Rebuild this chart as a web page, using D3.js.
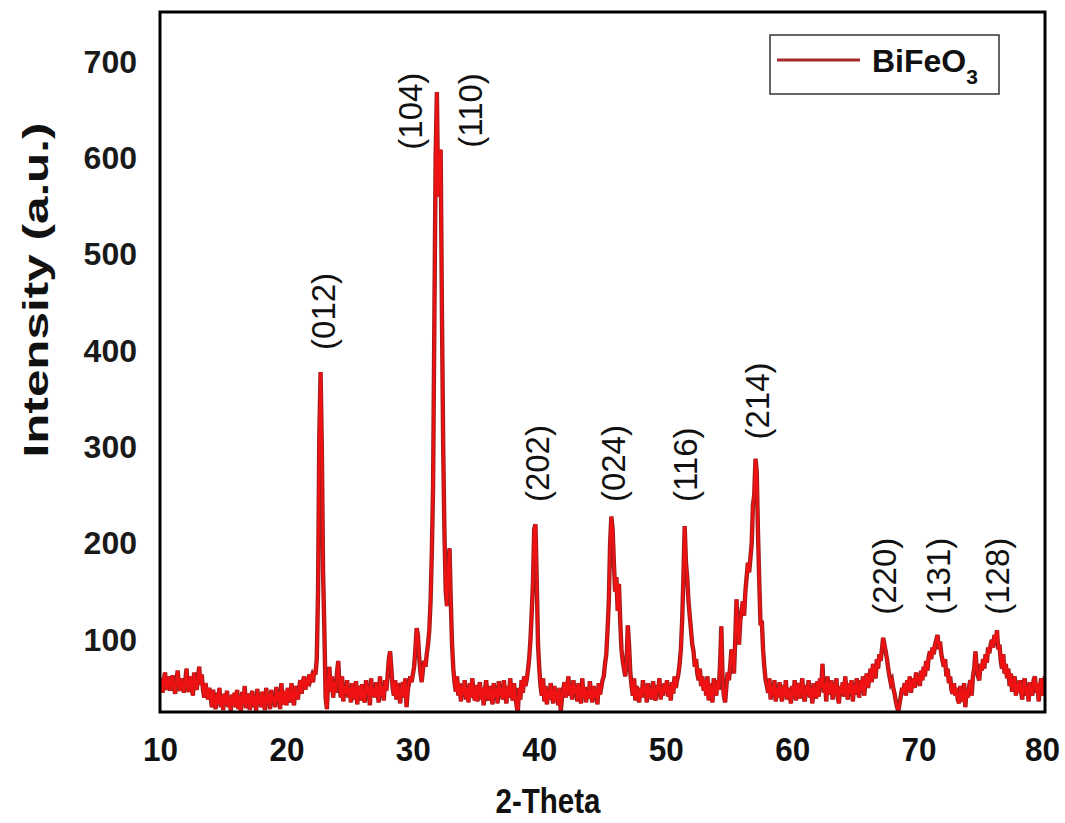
<!DOCTYPE html>
<html>
<head>
<meta charset="utf-8">
<script src="https://cdn.jsdelivr.net/npm/d3@7"></script>
<style>
  html, body { margin: 0; padding: 0; background: #fff; }
  svg { display: block; }
</style>
</head>
<body>
<svg id="chart" width="1065" height="823"></svg>
<script>
// ---------- data ----------
const startAngle = 10;     // first 2-theta value (deg)
const stepAngle = 0.1;     // 2-theta step (deg)
// intensity rows, one row per degree (x.0 ... x.9)
const intensityRows = [
  [52,60,45,58,66,48,55,62,47,57],        // 10
  [63,50,44,58,68,52,47,60,55,45],        // 11
  [58,70,50,46,62,55,42,66,52,48],        // 12
  [60,72,53,64,48,40,55,46,38,50],        // 13
  [43,30,48,36,28,45,34,50,30,42],        // 14
  [27,44,33,47,30,40,26,43,32,45],        // 15
  [30,48,28,41,26,46,33,52,29,40],        // 16
  [44,27,39,47,30,42,26,49,33,43],        // 17
  [30,46,36,27,50,34,44,28,48,35],        // 18
  [42,30,51,36,46,28,55,37,33,47],        // 19
  [32,50,40,35,55,41,32,52,43,38],        // 20
  [50,58,44,56,62,48,60,52,64,58],        // 21
  [62,56,68,64,80,150,310,378,300,170],   // 22
  [110,40,28,58,72,46,62,40,56,45],       // 23
  [66,78,52,40,62,36,52,44,58,40],        // 24
  [50,35,55,43,38,57,33,48,52,37],        // 25
  [54,40,35,58,43,52,32,60,42,50],        // 26
  [40,56,45,35,62,42,52,37,58,47],        // 27
  [62,80,88,70,50,42,58,38,55,45],        // 28
  [34,50,56,40,60,30,48,55,62,56],        // 29
  [64,72,90,112,105,82,66,56,70,78],      // 30
  [72,85,95,110,140,190,260,430,600,669], // 31
  [560,600,609,440,300,210,150,135,175,195], // 32
  [140,95,70,55,46,62,42,55,36,52],       // 33
  [43,58,38,50,35,55,40,60,45,37],        // 34
  [53,36,47,56,38,50,32,48,58,40],        // 35
  [37,52,44,33,55,40,49,34,57,42],        // 36
  [50,38,58,43,34,52,40,60,45,37],        // 37
  [55,42,32,24,50,38,58,45,62,52],        // 38
  [58,68,80,100,128,160,215,220,160,95],  // 39
  [70,52,42,60,36,52,33,48,38,55],        // 40
  [43,34,52,37,47,32,50,26,40,49],        // 41
  [56,40,50,62,42,53,38,58,44,52],        // 42
  [36,55,43,34,60,40,51,35,48,39],        // 43
  [57,42,35,52,40,49,33,55,43,50],        // 44
  [58,62,75,85,110,140,200,228,215,180],  // 45
  [150,165,130,158,120,90,78,70,62,75],   // 46
  [115,95,66,52,42,60,37,52,44,35],       // 47
  [50,40,58,43,52,35,55,40,49,38],        // 48
  [57,43,37,53,45,60,38,51,42,55],        // 49
  [45,58,41,52,37,56,44,62,50,58],        // 50
  [64,75,90,120,165,218,180,165,140,125], // 51
  [110,95,88,72,80,65,58,70,52,62],       // 52
  [47,58,42,62,37,55,45,35,60,50],        // 53
  [42,58,48,75,114,58,42,35,52,66],       // 54
  [58,72,90,80,65,100,142,110,95,120],    // 55
  [130,140,125,150,165,180,170,185,200,240], // 56
  [250,288,275,210,160,115,120,90,72,58], // 57
  [52,45,60,38,52,42,58,36,50,40],        // 58
  [56,44,36,53,41,58,38,50,43,34],        // 59
  [52,41,58,37,50,55,39,48,60,42],        // 60
  [36,53,43,58,40,50,34,55,45,39],        // 61
  [57,41,60,50,75,45,55,36,62,43],        // 62
  [50,58,38,54,43,60,40,34,52,44],        // 63
  [56,41,62,47,38,55,44,58,36,53],        // 64
  [43,60,49,40,58,47,62,42,55,65],        // 65
  [50,60,70,56,75,66,60,80,70,85],        // 66
  [78,90,102,95,88,80,70,62,55,58],       // 67
  [50,44,36,30,26,34,42,50,45,55],        // 68
  [42,58,47,62,45,55,60,50,66,56],        // 69
  [62,52,68,58,72,62,78,68,82,88],        // 70
  [80,92,85,95,100,105,90,98,85,78],      // 71
  [72,80,62,70,55,62,48,44,55,42],        // 72
  [50,38,34,52,42,36,55,30,48,40],        // 73
  [52,58,42,62,70,88,70,62,58,75],        // 74
  [68,80,70,85,76,92,86,95,100,92],       // 75
  [105,98,110,90,95,78,70,85,65,75],      // 76
  [60,70,52,65,46,58,62,42,55,45],        // 77
  [58,47,38,55,60,42,52,36,56,47],        // 78
  [42,58,62,45,55,36,52,60,42,55],        // 79
  [62]                                    // 80
];
const xTicks = [10, 20, 30, 40, 50, 60, 70, 80];
const yTicks = [100, 200, 300, 400, 500, 600, 700];
const xDomain = [10, 80];
const yDomain = [25, 752];
const hklLabels = ["(012)", "(104)", "(110)", "(202)", "(024)", "(116)", "(214)", "(220)", "(131)", "(128)"];
const hklTwoTheta = [22.93, 29.78, 34.53, 39.83, 45.84, 51.54, 57.23, 67.28, 71.55, 76.22];
const hklIntensity = [401, 609, 611, 243, 243, 243, 308, 126, 126, 126];
const seriesName = "BiFeO";
const seriesSub = "3";
const xTitle = "2-Theta";
const yTitle = "Intensity (a.u.)";

// ---------- build points ----------
const intensities = intensityRows.flat();
const points = intensities.map((v, i) => ({ x: startAngle + i * stepAngle, y: v }));

// ---------- layout ----------
const svg = d3.select("#chart");
const margin = { left: 160, top: 12, right: 20, bottom: 111 };
const W = 1065, H = 823;
const x0 = margin.left, x1 = W - margin.right;
const y0 = margin.top, y1 = H - margin.bottom;

const x = d3.scaleLinear().domain(xDomain).range([x0, x1]);
const y = d3.scaleLinear().domain(yDomain).range([y1, y0]);

svg.append("defs").append("clipPath").attr("id", "clip")
  .append("rect").attr("x", x0).attr("y", y0).attr("width", x1 - x0).attr("height", y1 - y0);

const line = d3.line().x(d => x(d.x)).y(d => y(d.y));

const plot = svg.append("g").attr("clip-path", "url(#clip)");
plot.append("path").datum(points)
  .attr("d", line).attr("fill", "none")
  .attr("stroke", "#9e1d1d").attr("stroke-width", 4.4).attr("stroke-linejoin", "miter");
plot.append("path").datum(points)
  .attr("d", line).attr("fill", "none")
  .attr("stroke", "#f01212").attr("stroke-width", 2.4).attr("stroke-linejoin", "miter");

// frame
svg.append("rect").attr("x", x0).attr("y", y0).attr("width", x1 - x0).attr("height", y1 - y0)
  .attr("fill", "none").attr("stroke", "#000").attr("stroke-width", 3);

// axes
const yAxis = d3.axisLeft(y).tickValues(yTicks).tickSize(0).tickPadding(23);
const gy = svg.append("g").attr("transform", `translate(${x0},0)`).call(yAxis);
gy.select(".domain").remove();
gy.selectAll("text").attr("font-family", "Liberation Sans, Arial, sans-serif")
  .attr("font-weight", "bold").attr("font-size", 32).attr("fill", "#1a1a1a");

const xAxis = d3.axisBottom(x).tickValues(xTicks).tickSize(0).tickPadding(25);
const gx = svg.append("g").attr("transform", `translate(0,${y1})`).call(xAxis);
gx.select(".domain").remove();
gx.selectAll("text").attr("font-family", "Liberation Sans, Arial, sans-serif")
  .attr("font-weight", "bold").attr("font-size", 34).attr("fill", "#111")
  .attr("textLength", 35).attr("lengthAdjust", "spacingAndGlyphs")
  .attr("dx", d => d === xDomain[1] ? -3 : 0);

// axis titles
svg.append("text").attr("x", 548).attr("y", 813).attr("text-anchor", "middle")
  .attr("font-family", "Liberation Sans, Arial, sans-serif").attr("font-weight", "bold")
  .attr("font-size", 35).attr("fill", "#111")
  .attr("textLength", 105).attr("lengthAdjust", "spacingAndGlyphs")
  .text(xTitle);

svg.append("text").attr("transform", "translate(48,290) rotate(-90)").attr("text-anchor", "middle")
  .attr("font-family", "Liberation Sans, Arial, sans-serif").attr("font-weight", "bold")
  .attr("font-size", 35).attr("fill", "#111")
  .attr("textLength", 335).attr("lengthAdjust", "spacingAndGlyphs")
  .text(yTitle);

// hkl labels
svg.append("g").selectAll("text").data(hklLabels).join("text")
  .attr("transform", (d, i) => `translate(${x(hklTwoTheta[i])},${y(hklIntensity[i])}) rotate(-90)`)
  .attr("dominant-baseline", "central")
  .attr("font-family", "Liberation Sans, Arial, sans-serif")
  .attr("font-size", 33).attr("fill", "#111")
  .text(d => d);

// legend
const lg = svg.append("g");
lg.append("rect").attr("x", 770).attr("y", 35).attr("width", 229).attr("height", 59)
  .attr("fill", "#fff").attr("stroke", "#333").attr("stroke-width", 1.5);
lg.append("line").attr("x1", 777).attr("x2", 860).attr("y1", 60).attr("y2", 60)
  .attr("stroke", "#a8282c").attr("stroke-width", 3);
const lt = lg.append("text").attr("x", 872).attr("y", 72)
  .attr("font-family", "Liberation Sans, Arial, sans-serif").attr("font-weight", "bold")
  .attr("font-size", 32).attr("fill", "#111");
lt.append("tspan").text(seriesName);
lt.append("tspan").attr("font-size", 21).attr("dy", 12).text(seriesSub);
</script>
</body>
</html>
